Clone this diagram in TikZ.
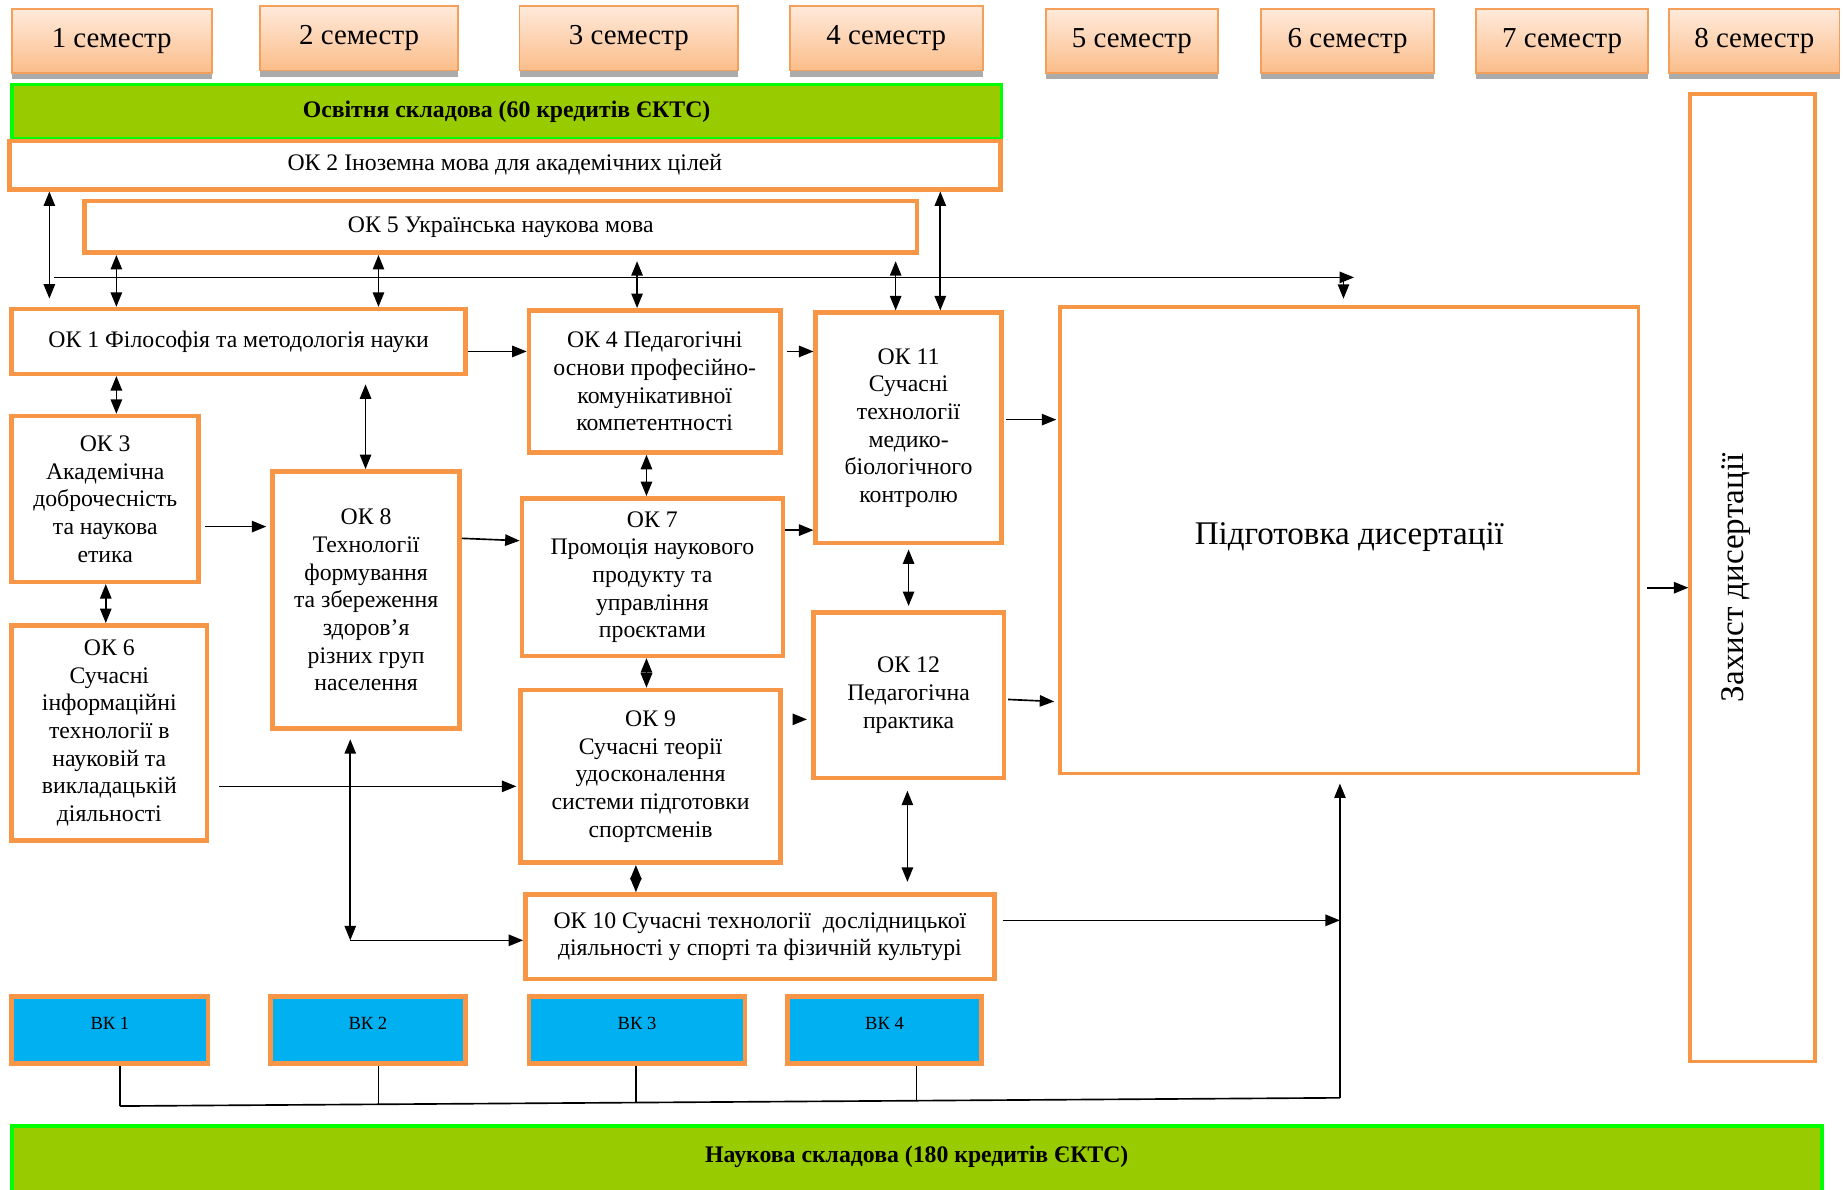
\documentclass[tikz,border=0pt]{standalone}
\usepackage{fontspec}
\setmainfont{Liberation Serif}
\usetikzlibrary{arrows.meta,shadows,calc}
\definecolor{org}{HTML}{F79646}
\definecolor{semline}{HTML}{F5A05A}
\definecolor{semtop}{HTML}{FFEADB}
\definecolor{sembot}{HTML}{FBBD8A}
\definecolor{grn}{HTML}{99CC00}
\definecolor{brgreen}{HTML}{00FF00}
\definecolor{cyanbk}{HTML}{00B0F0}
\newcommand{\okfont}{\fontsize{11.5}{13.4}\selectfont}
\newcommand{\semfont}{\fontsize{14}{16}\selectfont}
\newcommand{\barfont}{\fontsize{11.5}{13.4}\selectfont\bfseries}
\newcommand{\bkfont}{\fontsize{9}{11}\selectfont}
\newcommand{\bigfont}{\fontsize{16}{19}\selectfont}
\newcommand{\obox}[7][]{%
  \pgfmathsetmacro{\oboxw}{(#5-#3)*0.02}%
  \pgfmathsetmacro{\oboxh}{(#6-#4)*0.02}%
  \node[#1, minimum width=\oboxw cm, minimum height=\oboxh cm] (#2) at ({(#3+#5)/2},{(#4+#6)/2}) {#7};%
}
\begin{document}
\begin{tikzpicture}[x=0.02cm,y=-0.02cm,
  okbox/.style={draw=org,line width=2.2pt,fill=white,align=center,inner sep=0pt,font=\okfont},
  sembox/.style={draw=semline,line width=0.9pt,top color=semtop,bottom color=sembot,inner sep=0pt,font=\semfont,
     drop shadow={shadow xshift=0pt,shadow yshift=-3pt,fill=black!55,opacity=0.6}},
  barbox/.style={draw=brgreen,line width=1.8pt,fill=grn,inner sep=0pt,font=\barfont},
  bkbox/.style={draw=org,line width=2.2pt,fill=cyanbk,inner sep=0pt,font=\bkfont},
  bigbox/.style={draw=org,line width=1.8pt,fill=white,inner sep=0pt,font=\bigfont},
  tip/.tip={Triangle[length=7pt,width=5.5pt]},
  arr/.style={-tip,line width=0.8pt},
  dbl/.style={tip-tip,line width=0.8pt},
  ln/.style={line width=0.8pt}
]
\useasboundingbox (0,0) rectangle (1568,1012);

% semesters
\obox[sembox]{s1}{10}{8}{180}{62}{\raisebox{2pt}{1 семестр}}
\obox[sembox]{s2}{221}{5}{390}{60}{\raisebox{2pt}{2 семестр}}
\obox[sembox]{s3}{442}{5}{628}{60}{\raisebox{2pt}{3 семестр}}
\obox[sembox]{s4}{672}{5}{836}{60}{\raisebox{2pt}{4 семестр}}
\obox[sembox]{s5}{890}{8}{1036}{62}{\raisebox{2pt}{5 семестр}}
\obox[sembox]{s6}{1073}{8}{1220}{62}{\raisebox{2pt}{6 семестр}}
\obox[sembox]{s7}{1256}{8}{1402}{62}{\raisebox{2pt}{7 семестр}}
\obox[sembox]{s8}{1420}{8}{1565}{62}{\raisebox{2pt}{8 семестр}}

% bars
\obox[barbox]{edu}{10}{72}{852}{118}{Освітня складова (60 кредитів ЄКТС)}
\obox[barbox]{sci}{10}{958}{1550}{1016}{\raisebox{6pt}{Наукова складова (180 кредитів ЄКТС)}}

% OK boxes
\obox[okbox]{ok2}{8}{120}{851}{161}{ОК 2 Іноземна мова для академічних цілей}
\obox[okbox]{ok5}{72}{171}{780}{215}{ОК 5 Українська наукова мова}
\obox[okbox]{ok1}{10}{263}{396}{318}{\raisebox{2pt}{ОК 1 Філософія та методологія науки}}
\obox[okbox]{ok4}{450}{264}{664}{385}{ОК 4 Педагогічні\\основи професійно-\\комунікативної\\компетентності}
\obox[okbox]{ok11}{694}{266}{852}{462}{ОК 11\\Сучасні\\технології\\медико-\\біологічного\\контролю}
\obox[okbox]{ok3}{10}{354}{169}{495}{ОК 3\\Академічна\\доброчесність\\та наукова\\етика}
\obox[okbox]{ok8}{232}{401}{391}{620}{ОК 8\\Технології\\формування\\та збереження\\здоров’я\\різних груп\\населення}
\obox[okbox]{ok7}{444}{424}{666}{558}{ОК 7\\Промоція наукового\\продукту та\\управління\\проєктами}
\obox[okbox]{ok12}{692}{521}{854}{662}{ОК 12\\Педагогічна\\практика}
\obox[okbox]{ok9}{443}{587}{664}{734}{ОК 9\\Сучасні теорії\\удосконалення\\системи підготовки\\спортсменів}
\obox[okbox]{ok6}{10}{532}{176}{715}{ОК 6\\Сучасні\\інформаційні\\технології в\\науковій та\\викладацькій\\діяльності}
\obox[okbox]{ok10}{447}{761}{846}{833}{ОК 10 Сучасні технології~ дослідницької\\діяльності у спорті та фізичній культурі}

% big boxes
\obox[bigbox]{pid}{902}{261}{1394}{658}{\raisebox{6pt}{Підготовка дисертації}}
\obox[bigbox]{zah}{1438}{80}{1544}{903}{\rotatebox{90}{Захист дисертації}\rule{16pt}{0pt}}

% BK boxes
\obox[bkbox]{bk1}{10}{848}{177}{905}{\raisebox{7pt}{ВК 1}}
\obox[bkbox]{bk2}{230}{848}{396}{905}{\raisebox{7pt}{ВК 2}}
\obox[bkbox]{bk3}{450}{848}{634}{905}{\raisebox{7pt}{ВК 3}}
\obox[bkbox]{bk4}{670}{848}{835}{905}{\raisebox{7pt}{ВК 4}}

% coordinates
\coordinate (hl) at (46,236);
\coordinate (hr) at (1152,236);
\coordinate (hd) at (1143,236);
\coordinate (c1) at (298,800);
\coordinate (c2) at (1140,783);
\coordinate (j0) at (102,941);
\coordinate (j1) at (1140,934);
\coordinate (j2) at ($(j0)!0.212!(j1)$);
\coordinate (j3) at ($(j0)!0.423!(j1)$);
\coordinate (j4) at ($(j0)!0.653!(j1)$);

% top connectors
\draw[arr] (hl) -- (hr);
\draw[arr,shorten >=3pt] (hd) -- (pid.north -| hd);
\draw[dbl,shorten >=4pt] (42,0 |- ok2.south) -- (42,0 |- ok1.north);
\draw[dbl] (99,0 |- ok5.south) -- (99,0 |- ok1.north);
\draw[dbl] (322,0 |- ok5.south) -- (322,0 |- ok1.north);
\draw[dbl,shorten <=3pt] (542,0 |- ok5.south) -- (542,0 |- ok4.north);
\draw[dbl,shorten <=3pt] (762,0 |- ok5.south) -- (762,0 |- ok11.north);
\draw[dbl] (800,0 |- ok2.south) -- (800,0 |- ok11.north);

% horizontal connectors
\draw[arr] (ok1.east |- 0,299) -- (ok4.west |- 0,299);
\draw[arr,shorten <=2pt] (ok4.east |- 0,299) -- (ok11.west |- 0,299);
\draw[arr,shorten <=1pt,shorten >=1pt] (ok11.east |- 0,357) -- (pid.west |- 0,357);
\draw[arr,shorten <=3pt] (pid.east |- 0,500) -- (zah.west |- 0,500);
\draw[arr,shorten <=2pt,shorten >=2pt] (ok3.east |- 0,448) -- (ok8.west |- 0,448);
\draw[arr] (ok8.east |- 0,458) -- (ok7.west |- 0,460);
\draw[arr] (ok7.east |- 0,451) -- (ok11.west |- 0,451);
\draw[arr,shorten <=1pt,shorten >=2pt] (ok12.east |- 0,595) -- (pid.west |- 0,597);
\draw[arr,shorten <=6pt,shorten >=2pt] (ok9.east |- 0,612) -- (ok12.west |- 0,612);
\draw[arr,shorten <=5pt,shorten >=1pt] (ok6.east |- 0,669) -- (ok9.west |- 0,669);
\draw[arr,shorten <=3pt] (ok10.east |- c2) -- (c2);

% vertical connectors
\draw[dbl] (99,0 |- ok1.south) -- (99,0 |- ok3.north);
\draw[dbl,shorten <=4pt] (311,0 |- ok1.south) -- (311,0 |- ok8.north);
\draw[dbl] (550,0 |- ok4.south) -- (550,0 |- ok7.north);
\draw[dbl,shorten <=2pt,shorten >=2pt] (773,0 |- ok11.south) -- (773,0 |- ok12.north);
\draw[dbl] (550,0 |- ok7.south) -- (550,0 |- ok9.north);
\draw[dbl] (90,0 |- ok3.south) -- (90,0 |- ok6.north);
\draw[dbl] (541,0 |- ok9.south) -- (541,0 |- ok10.north);
\draw[dbl,shorten <=5pt,shorten >=5pt] (772,0 |- ok12.south) -- (772,0 |- ok10.north);
\draw[dbl,shorten <=4pt] (298,0 |- ok8.south) -- (c1);
\draw[arr] (c1) -- (ok10.west |- c1);

% elective collector
\draw[ln] (bk1.south -| j0) -- (j0);
\draw[ln] (bk2.south -| j2) -- (j2);
\draw[ln] (bk3.south -| j3) -- (j3);
\draw[ln] (bk4.south -| j4) -- (j4);
\draw[ln] (j0) -- (j1);
\draw[ln] (c2) -- (j1);
\draw[arr,shorten >=4pt] (j1) -- (pid.south -| j1);
\end{tikzpicture}
\end{document}
